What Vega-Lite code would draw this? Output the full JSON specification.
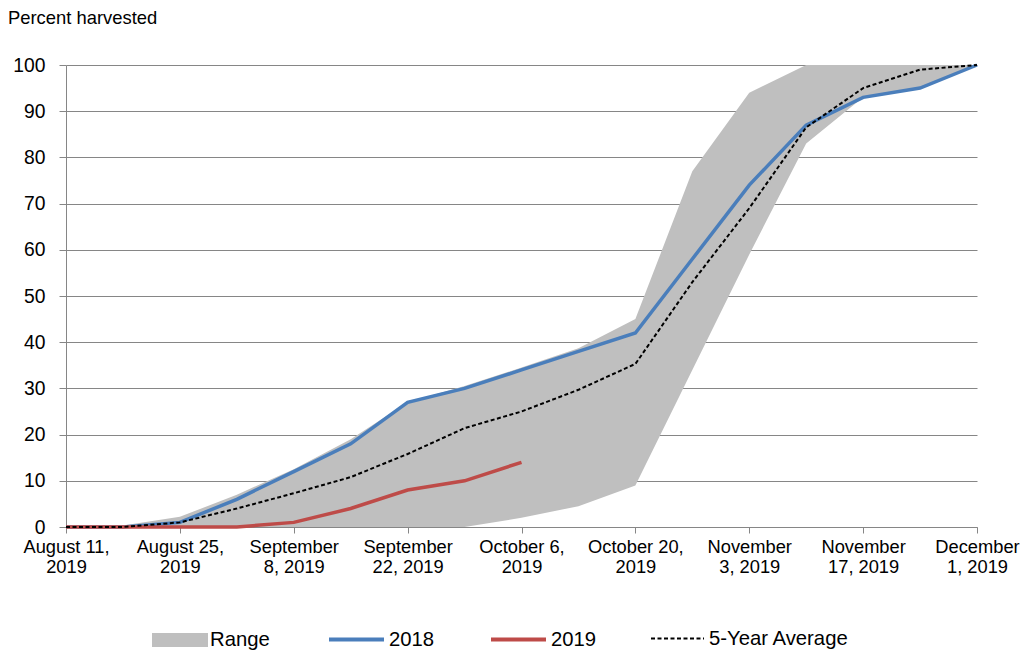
{
  "$schema": "https://vega.github.io/schema/vega-lite/v6.json",
  "width": 911,
  "height": 462,
  "autosize": {"type": "none"},
  "padding": {"left": 66, "top": 65, "right": 44, "bottom": 124},
  "background": "white",
  "title": {
    "text": "Percent harvested",
    "anchor": "start",
    "frame": "group",
    "dx": -58,
    "offset": 29,
    "fontSize": 18.4,
    "fontWeight": "normal",
    "font": "Liberation Sans",
    "color": "black"
  },
  "config": {
    "view": {"stroke": null},
    "font": "Liberation Sans",
    "axis": {
      "labelFont": "Liberation Sans",
      "labelColor": "black",
      "domainColor": "#868686",
      "tickColor": "#868686",
      "gridColor": "#868686",
      "gridOpacity": 1,
      "domainWidth": 1,
      "tickWidth": 1
    },
    "legend": {"labelFont": "Liberation Sans", "labelColor": "black", "labelFontSize": 20.3, "padding": 0, "title": null, "orient": "none", "direction": "horizontal"}
  },
  "resolve": {"scale": {"stroke": "independent"}, "legend": {"stroke": "independent"}},
  "data": {
    "values": [
      {"week": "August 11, 2019", "low": 0, "high": 0, "y2018": 0, "y2019": 0, "avg": 0},
      {"week": "August 18, 2019", "low": 0, "high": 0.3, "y2018": 0, "y2019": 0, "avg": 0},
      {"week": "August 25, 2019", "low": 0, "high": 2.2, "y2018": 1, "y2019": 0, "avg": 1},
      {"week": "September 1, 2019", "low": 0, "high": 7, "y2018": 6, "y2019": 0, "avg": 4},
      {"week": "September 8, 2019", "low": 0, "high": 12.5, "y2018": 12, "y2019": 1, "avg": 7.3},
      {"week": "September 15, 2019", "low": 0, "high": 19, "y2018": 18, "y2019": 4, "avg": 10.8},
      {"week": "September 22, 2019", "low": 0, "high": 27, "y2018": 27, "y2019": 8, "avg": 15.8},
      {"week": "September 29, 2019", "low": 0, "high": 30.5, "y2018": 30, "y2019": 10, "avg": 21.4},
      {"week": "October 6, 2019", "low": 2, "high": 34.5, "y2018": 34, "y2019": 14, "avg": 25},
      {"week": "October 13, 2019", "low": 4.5, "high": 38.7, "y2018": 38, "y2019": null, "avg": 29.7},
      {"week": "October 20, 2019", "low": 9, "high": 45, "y2018": 42, "y2019": null, "avg": 35.3},
      {"week": "October 27, 2019", "low": 34, "high": 77, "y2018": 58, "y2019": null, "avg": 53},
      {"week": "November 3, 2019", "low": 59, "high": 94, "y2018": 74, "y2019": null, "avg": 69},
      {"week": "November 10, 2019", "low": 83, "high": 100, "y2018": 87, "y2019": null, "avg": 86.5},
      {"week": "November 17, 2019", "low": 93, "high": 100, "y2018": 93, "y2019": null, "avg": 95},
      {"week": "November 24, 2019", "low": 95, "high": 100, "y2018": 95, "y2019": null, "avg": 99},
      {"week": "December 1, 2019", "low": 100, "high": 100, "y2018": 100, "y2019": null, "avg": 100}
    ]
  },
  "encoding": {
    "x": {
      "field": "week",
      "type": "ordinal",
      "sort": null,
      "scale": {"type": "point", "padding": 0},
      "axis": {
        "title": null,
        "labelAngle": 0,
        "labelFontSize": 18.3,
        "labelPadding": 5,
        "labelLineHeight": 20.5,
        "tickSize": 6,
        "grid": false,
        "values": ["August 11, 2019", "August 25, 2019", "September 8, 2019", "September 22, 2019", "October 6, 2019", "October 20, 2019", "November 3, 2019", "November 17, 2019", "December 1, 2019"],
        "labelExpr": "length(split(datum.label, ' ')[0]) > 7 ? [split(datum.label, ' ')[0], slice(datum.label, indexof(datum.label, ' ') + 1)] : [slice(datum.label, 0, lastindexof(datum.label, ' ')), slice(datum.label, lastindexof(datum.label, ' ') + 1)]"
      }
    }
  },
  "layer": [
    {
      "mark": {"type": "area", "opacity": 1},
      "encoding": {
        "y": {
          "field": "low",
          "type": "quantitative",
          "scale": {"domain": [0, 100], "nice": false},
          "axis": {
            "title": null,
            "values": [0, 10, 20, 30, 40, 50, 60, 70, 80, 90, 100],
            "labelFontSize": 19.3,
            "labelPadding": 14,
            "tickSize": 7,
            "grid": true
          }
        },
        "y2": {"field": "high"},
        "fill": {
          "datum": "Range",
          "type": "nominal",
          "scale": {"domain": ["Range"], "range": ["#bfbfbf"]},
          "legend": {
            "title": null,
            "orient": "none",
            "direction": "horizontal",
            "legendX": 86,
            "legendY": 547,
            "symbolType": "M-1,-0.25H1V0.25H-1Z",
            "symbolSize": 3136,
            "symbolStrokeWidth": 0,
            "labelOffset": 2
          }
        }
      }
    },
    {
      "mark": {"type": "line", "strokeWidth": 3.5},
      "encoding": {
        "y": {"field": "y2018", "type": "quantitative"},
        "stroke": {
          "datum": "2018",
          "type": "nominal",
          "scale": {"domain": ["2018"], "range": ["#4a7ebb"]},
          "legend": {
            "title": null,
            "orient": "none",
            "direction": "horizontal",
            "legendX": 261,
            "legendY": 545,
            "symbolType": "stroke",
            "symbolSize": 3025,
            "symbolStrokeWidth": 4,
            "labelOffset": 3
          }
        }
      }
    },
    {
      "mark": {"type": "line", "strokeWidth": 3.5},
      "encoding": {
        "y": {"field": "y2019", "type": "quantitative"},
        "stroke": {
          "datum": "2019",
          "type": "nominal",
          "scale": {"domain": ["2019"], "range": ["#be4b48"]},
          "legend": {
            "title": null,
            "orient": "none",
            "direction": "horizontal",
            "legendX": 423,
            "legendY": 545,
            "symbolType": "stroke",
            "symbolSize": 3025,
            "symbolStrokeWidth": 4,
            "labelOffset": 3
          }
        }
      }
    },
    {
      "mark": {"type": "line", "strokeWidth": 2, "strokeDash": [4, 2.5]},
      "encoding": {
        "y": {"field": "avg", "type": "quantitative"},
        "stroke": {
          "datum": "5-Year Average",
          "type": "nominal",
          "scale": {"domain": ["5-Year Average"], "range": ["#000000"]},
          "legend": {
            "title": null,
            "orient": "none",
            "direction": "horizontal",
            "legendX": 584,
            "legendY": 546,
            "symbolType": "stroke",
            "symbolSize": 2809,
            "symbolStrokeWidth": 2,
            "symbolDash": [4, 2.5],
            "labelOffset": 4
          }
        }
      }
    }
  ]
}
